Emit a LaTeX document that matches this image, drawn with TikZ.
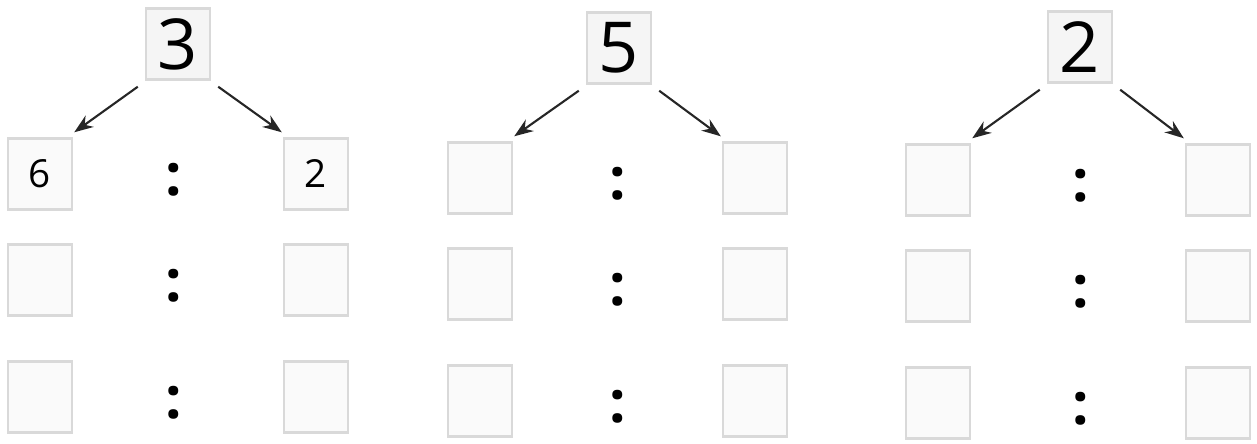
\documentclass[tikz,border=0pt]{standalone}
\usepackage{fontspec}
\setmainfont{Open Sans}
\usetikzlibrary{arrows.meta}

\tikzset{
  cell/.style={draw=gray!30, line width=1.4pt, fill=gray!4,
    minimum width=1.28cm, minimum height=1.42cm, inner sep=0pt},
  topcell/.style={cell, fill=gray!8, font=\fontsize{40}{48}\selectfont},
  given/.style={font=\fontsize{22}{26}\selectfont, inner sep=0pt},
  ratio/.style={font=\fontsize{33}{36}\selectfont\bfseries, inner sep=0pt},
  split/.style={-{Stealth[length=0.38cm,width=0.28cm]}, line width=1.2pt, black!85},
}

\begin{document}
\begin{tikzpicture}[x=0.02cm,y=-0.02cm]
\useasboundingbox (0,0) rectangle (1257,443);
% three groups: top number, then three rows of cell : cell
\foreach \g/\tx/\ty/\lx/\rx/\cx/\dy/\num in {1/178/44/40/316/174/0/3,
    2/619/48/480/755/618/4/5, 3/1080/47/938/1218/1081/6/2}{
  \node[topcell] (t\g) at (\tx,\ty) {\num};
  \foreach \r/\ry in {1/174,2/280,3/397}{
    \node[cell] (l\g\r) at (\lx,\ry+\dy) {};
    \node[ratio] (c\g\r) at (\cx,\ry+\dy+6) {:};
    \node[cell] (r\g\r) at (\rx,\ry+\dy) {};
  }
  \draw[split] ([shift={(-7,6)}]t\g.south west) -- ([shift={(1,-5)}]l\g1.north east);
  \draw[split] ([shift={(7,6)}]t\g.south east) -- ([shift={(-1,-5)}]r\g1.north west);
}
% filled in example
\node[given] (v6) at (l11) {6};
\node[given] (v2) at (r11) {2};
\end{tikzpicture}
\end{document}
